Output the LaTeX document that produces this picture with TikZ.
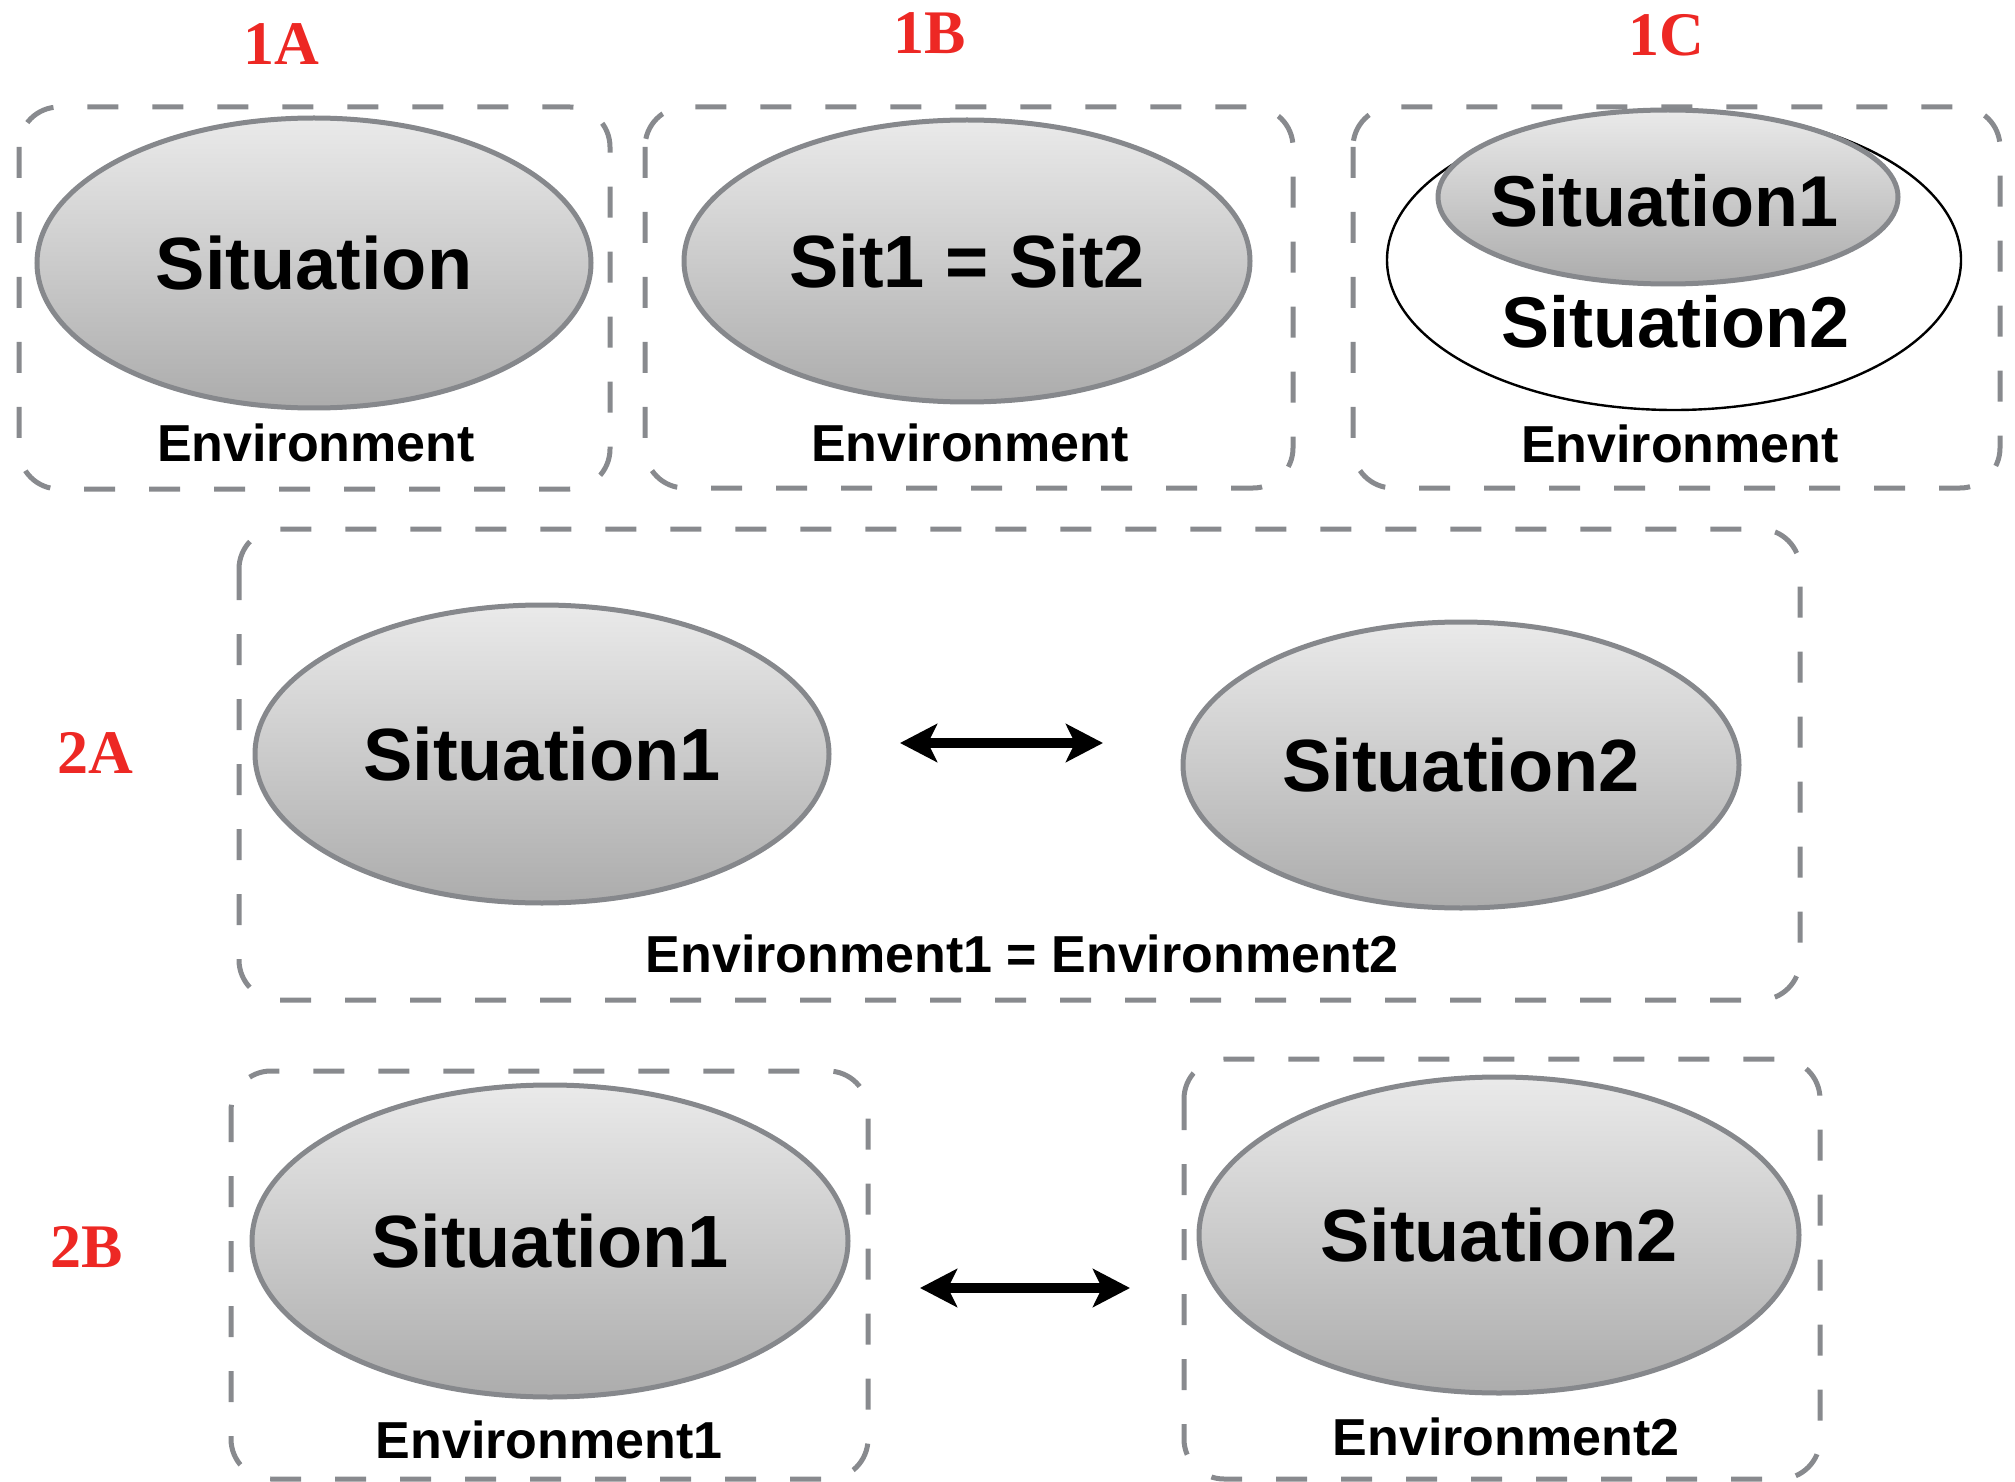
\documentclass[tikz,border=0pt]{standalone}
\usepackage{fontspec}
\setmainfont{Liberation Sans}
\newfontfamily\labelserif{Liberation Serif}
\usetikzlibrary{shapes.geometric,arrows.meta}
\definecolor{edgegray}{RGB}{134,136,140}
\definecolor{dashgray}{RGB}{136,138,142}
\definecolor{tagred}{RGB}{237,40,36}
\definecolor{shadetop}{RGB}{234,234,234}
\definecolor{shadebot}{RGB}{172,172,172}
\begin{document}
\begin{tikzpicture}[x=0.5pt,y=-0.5pt,
  sitnode/.style={ellipse, draw=edgegray, line width=2.5pt,
    top color=shadetop, bottom color=shadebot, inner sep=0pt,
    font=\fontsize{37pt}{40pt}\selectfont\bfseries},
  sittext/.style={inner sep=0pt, font=\fontsize{36pt}{40pt}\selectfont\bfseries},
  envlabel/.style={inner sep=0pt, font=\fontsize{26pt}{28pt}\selectfont\bfseries},
  tag/.style={inner sep=0pt, text=tagred,
    font=\labelserif\fontsize{31pt}{33pt}\selectfont\bfseries},
  envbox/.style={draw=dashgray, line width=2.5pt,
    dash pattern=on 15.5pt off 17pt, rounded corners=20pt},
  link/.style={line width=4.6pt,
    {Stealth[length=18.5pt,width=19pt,inset=4.5pt]}-{Stealth[length=18.5pt,width=19pt,inset=4.5pt]}}
]
\useasboundingbox (0,0) rectangle (2015,1482);

% ---- row 1 tags ----
\node[tag] (t1a) at (281,44) {1A};
\node[tag] (t1b) at (930,33) {1B};
\node[tag] (t1c) at (1666,35) {1C};

% ---- 1A: one situation in its environment ----
\draw[envbox] (19,107) rectangle (610,489);
\node[sitnode, minimum width=277pt, minimum height=145pt] (s1a) at (314,263) {Situation};
\node[envlabel] (e1a) at (316,443) {Environment};

% ---- 1B: identical situations ----
\draw[envbox] (645,107) rectangle (1293,488);
\node[sitnode, minimum width=283pt, minimum height=141pt] (s1b) at (967,261) {Sit1 = Sit2};
\node[envlabel] (e1b) at (970,443) {Environment};

% ---- 1C: one situation contained in another ----
\draw[envbox] (1353,107) rectangle (2000,488);
\node[ellipse, draw=black, line width=1.2pt, fill=white, inner sep=0pt,
      minimum width=287pt, minimum height=150pt] (outer1c) at (1674,260) {};
\node[sitnode, minimum width=230pt, minimum height=87pt] (inner1c) at (1668,197) {};
\node[sittext] (lab1c1) at (1664,201) {Situation1};
\node[sittext] (lab1c2) at (1675,322) {Situation2};
\node[envlabel] (e1c) at (1680,444) {Environment};

% ---- 2A: two situations sharing one environment ----
\node[tag] (t2a) at (95,753) {2A};
\draw[envbox] (239,529) rectangle (1800,1000);
\node[sitnode, minimum width=287pt, minimum height=149pt] (s2a1) at (542,754) {Situation1};
\node[sitnode, minimum width=278pt, minimum height=143pt] (s2a2) at (1461,765) {Situation2};
\coordinate (a2l) at (900,743);
\coordinate (a2r) at (1103,743);
\draw[link] (a2l) -- (a2r);
\node[envlabel] (e2a) at (1022,954) {Environment1 = Environment2};

% ---- 2B: two situations in separate environments ----
\node[tag] (t2b) at (87,1247) {2B};
\draw[envbox] (231,1071) rectangle (868,1479);
\node[sitnode, minimum width=298pt, minimum height=156pt] (s2b1) at (550,1241) {Situation1};
\node[envlabel] (e2b1) at (549,1440) {Environment1};
\draw[envbox] (1184,1059) rectangle (1820,1479);
\node[sitnode, minimum width=300pt, minimum height=158pt] (s2b2) at (1499,1235) {Situation2};
\node[envlabel] (e2b2) at (1506,1437) {Environment2};
\coordinate (b2l) at (920,1288);
\coordinate (b2r) at (1130,1288);
\draw[link] (b2l) -- (b2r);
\end{tikzpicture}
\end{document}
